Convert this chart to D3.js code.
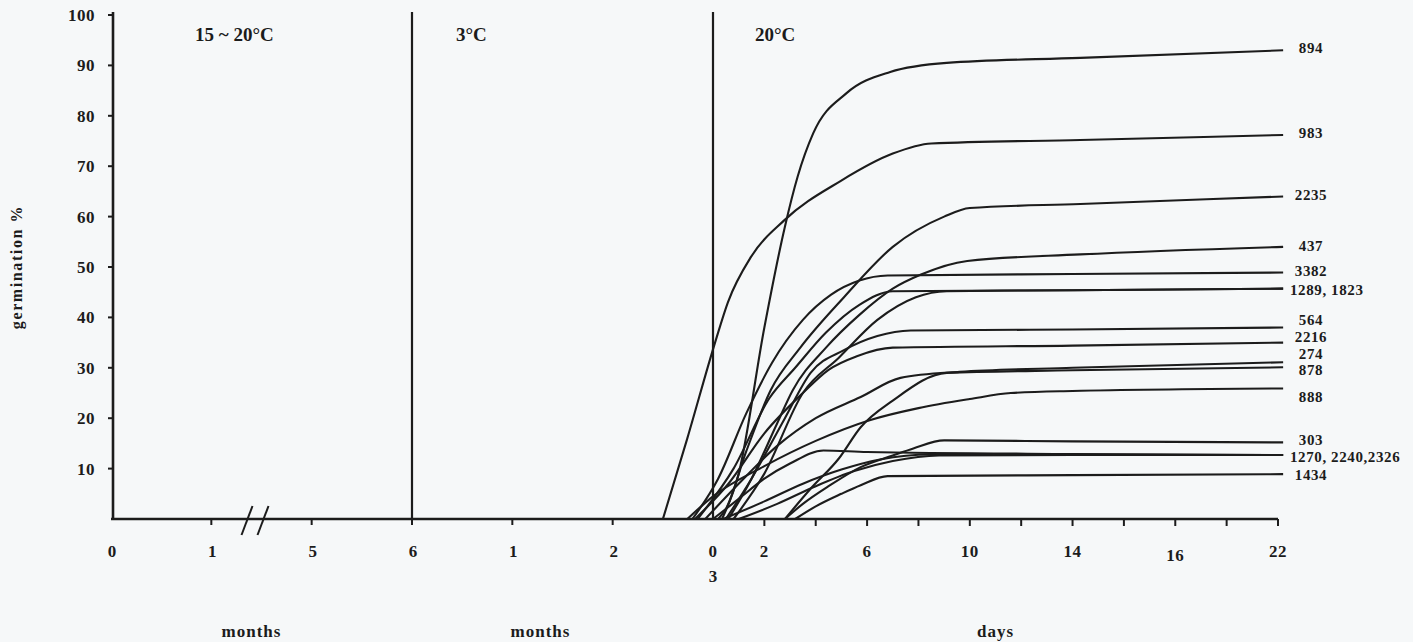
<!DOCTYPE html>
<html>
<head>
<meta charset="utf-8">
<script src="https://cdn.jsdelivr.net/npm/d3@7"></script>
<style>
  body { margin: 0; background: #f6f8f9; }
  text { font-family: "Liberation Serif", "DejaVu Serif", serif; font-weight: bold; fill: #1c1c1c; }
</style>
</head>
<body>
<svg id="chart" width="1413" height="642"></svg>
<script>
// germination curves: [day after transfer to 20°C, germination %]
const c894  = [[0.35,0],[1.0,9],[2.0,38],[2.8,58],[3.3,68],[3.9,76.5],[5.2,84.5],[6.9,88.7],[9.1,90.5],[14.3,91.5],[22.2,93]];
const c983  = [[-1.95,0],[-1.0,16],[0.08,35],[0.58,43],[1.48,52],[2.76,59.2],[4.98,67.1],[7.0,72.5],[8.5,74.5],[14.3,75.2],[22.2,76.2]];
const c2235 = [[0.2,0],[0.5,2],[1.3,13.5],[2.25,25.6],[3.4,34],[5.1,44],[7.0,54],[9.0,60],[10,61.7],[14.3,62.5],[22.2,64]];
const c437  = [[0.6,0],[1.5,8],[2.5,19],[3.1,25.5],[4.4,34],[5.7,40.5],[7.0,45.7],[8.1,48.5],[9.9,51.2],[14.3,52.5],[22.2,54]];
const c3382 = [[-0.8,0],[0.2,8],[1.3,21],[2.3,31],[3.5,39.5],[4.6,44.5],[5.7,47.3],[6.8,48.3],[14,48.6],[22.2,48.9]];
const c1289 = [[-0.6,0],[0.8,10],[2.2,24],[3.2,30],[4.4,37],[5.7,42.5],[7.0,45.2],[14,45.4],[22.2,45.7]];
const c1823 = [[0.8,0],[2.0,9],[3.5,25],[4.9,32],[6.4,39.5],[7.9,44],[9.1,45.2],[14,45.4],[22.2,45.7]];
const c564  = [[0.5,0],[1.5,8],[2.8,20],[3.8,29],[5.1,33.5],[6.4,36.3],[7.7,37.4],[14,37.6],[22.2,38]];
const c2216 = [[-0.7,0],[0.6,7],[2.0,17],[3.5,25],[4.5,29.6],[5.6,32.3],[7.0,34],[14,34.4],[22.2,35]];
const c274  = [[-0.3,0],[1.0,7],[2.5,14.5],[4.0,20],[5.75,24.2],[7.3,28],[9.6,29.2],[14,30],[22.2,31.1]];
const c878  = [[2.8,0],[3.8,6],[4.9,12],[5.75,18.2],[7.0,23.5],[9.1,29],[14,29.5],[22.2,30.1]];
const c888  = [[-1.0,0],[0,4.5],[2,10.5],[4,15.5],[6.1,19.6],[8,22],[10,23.8],[11.6,25],[14,25.4],[22.2,25.9]];
const c303  = [[2.8,0],[3.5,3],[4.5,6.5],[5.75,10.3],[7.0,12.6],[7.8,14],[9.0,15.6],[14,15.4],[22.2,15.2]];
const c1270 = [[0.0,0],[1.0,4],[2.0,8],[3.0,11],[4.3,13.6],[6,13.3],[14,12.9],[22.2,12.7]];
const c2240 = [[0.4,0],[2.0,3.5],[3.5,7],[5.0,9.8],[6.5,11.8],[8.5,12.8],[14,12.8],[22.2,12.7]];
const c2326 = [[1.0,0],[2.5,3],[4.0,6.5],[5.5,9.5],[7.0,11.5],[8.8,12.6],[14,12.7],[22.2,12.7]];
const c1434 = [[3.2,0],[4.0,2.5],[5.0,5],[5.75,6.7],[6.8,8.5],[14,8.7],[22.2,8.9]];
const allCurves = [c894, c983, c2235, c437, c3382, c1289, c1823, c564, c2216, c274, c878, c888, c303, c1270, c2240, c2326, c1434];

// end labels and the % level where each one sits
const endLabels = ["894","983","2235","437","3382","1289, 1823","564","2216","274","878","888","303","1270, 2240,2326","1434"];
const endLabelPct = [93.5, 76.6, 64.3, 54.2, 49.2, 45.4, 39.5, 36.1, 32.7, 29.6, 24.2, 15.7, 12.3, 8.7];

// axis ticks
const yTicks = [10,20,30,40,50,60,70,80,90,100];
const monthTicks = [0, 1, 5, 6, 7, 8];
const monthTickLabels = ["0","1","5","6","1","2"];
const dayTicks = [0,2,4,6,8,10,12,14,16,18,20,22];
const dayTickLabels = {0:"0", 2:"2", 6:"6", 10:"10", 14:"14", 18:"16", 22:"22"};
const phaseLabels = ["15 ~ 20°C", "3°C", "20°C"];
const phaseStart = [0, 6, 9];   // months

const svg = d3.select("#chart");
const left = 111, right = 1278, plotTop = 15, base = 519;
const dayStart = 713;
const slot = (dayStart - left) / 6;

// months: 0-1, (break) 1-5, 5-6 at 15~20°C, then 3 months at 3°C
const xm = d3.scaleLinear().domain([0,1,5,6,9]).range([0,1,2,3,6].map(s => left + s*slot));
const xd = d3.scaleLinear().domain([0,22]).range([dayStart, right]);
const y = d3.scaleLinear().domain([0,100]).range([base, plotTop]);

const ink = "#1c1c1c";

// y axis
svg.append("line").attr("x1", left + 2).attr("x2", left + 2).attr("y1", plotTop - 3).attr("y2", base)
  .attr("stroke", ink).attr("stroke-width", 2.6);
svg.append("g").selectAll("line").data(yTicks).enter().append("line")
  .attr("x1", left - 3).attr("x2", left + 2)
  .attr("y1", d => y(d)).attr("y2", d => y(d))
  .attr("stroke", ink).attr("stroke-width", 2);
svg.append("g").selectAll("text").data(yTicks).enter().append("text")
  .attr("x", 95).attr("y", d => y(d) + 6)
  .attr("text-anchor", "end").style("font-size", "17px").style("letter-spacing", "0.5px")
  .text(d => d);

svg.append("text")
  .attr("transform", `translate(22, ${y(50)}) rotate(-90)`)
  .attr("text-anchor", "middle").style("font-size", "16px").style("letter-spacing", "1.6px")
  .text("germination %");

// x baseline
svg.append("line").attr("x1", left).attr("x2", right).attr("y1", base).attr("y2", base)
  .attr("stroke", ink).attr("stroke-width", 2.6);

// month ticks
svg.append("g").selectAll("line").data(monthTicks.slice(1)).enter().append("line")
  .attr("x1", d => xm(d)).attr("x2", d => xm(d))
  .attr("y1", base).attr("y2", base + 6)
  .attr("stroke", ink).attr("stroke-width", 2);
svg.append("g").selectAll("text").data(monthTicks).enter().append("text")
  .attr("x", d => xm(d) + 1).attr("y", base + 38)
  .attr("text-anchor", "middle").style("font-size", "17px")
  .text((d, i) => monthTickLabels[i]);
svg.append("text").attr("x", xm(9)).attr("y", base + 63)
  .attr("text-anchor", "middle").style("font-size", "17px").text("3");

// day ticks
svg.append("g").selectAll("line").data(dayTicks.slice(1)).enter().append("line")
  .attr("x1", d => xd(d)).attr("x2", d => xd(d))
  .attr("y1", base).attr("y2", base + 7)
  .attr("stroke", ink).attr("stroke-width", 2);
svg.append("g").selectAll("text").data(dayTicks.filter(d => dayTickLabels[d] !== undefined)).enter().append("text")
  .attr("x", d => xd(d)).attr("y", d => base + (d === 18 ? 42 : 38))
  .attr("text-anchor", "middle").style("font-size", "17px").style("letter-spacing", "0.5px")
  .text(d => dayTickLabels[d]);

// axis break
const bx = (xm(1) + xm(5)) / 2 - 5;
[-8, 8].forEach(off => {
  svg.append("line")
    .attr("x1", bx + off - 7).attr("y1", base + 16)
    .attr("x2", bx + off + 4).attr("y2", base - 13)
    .attr("stroke", ink).attr("stroke-width", 2);
});

// phase boundaries
[6, 9].forEach(m => {
  svg.append("line").attr("x1", xm(m)).attr("x2", xm(m)).attr("y1", plotTop - 3).attr("y2", base)
    .attr("stroke", ink).attr("stroke-width", 2.2);
});
const phaseOffset = [84, 44, 42];
svg.append("g").selectAll("text").data(phaseLabels).enter().append("text")
  .attr("x", (d, i) => xm(phaseStart[i]) + phaseOffset[i])
  .attr("y", 41).style("font-size", "19px")
  .text(d => d);

// bottom captions
const caption = (x, t) => svg.append("text").attr("x", x).attr("y", 637)
  .attr("text-anchor", "middle").style("font-size", "17px").style("letter-spacing", "1px").text(t);
caption((xm(1) + xm(5)) / 2 - 10, "months");
caption((xm(7) + xm(8)) / 2 - 22, "months");
caption(xd(11), "days");

// curves
const line = d3.line()
  .x(d => xd(d[0]))
  .y(d => y(d[1]))
  .curve(d3.curveMonotoneX);

svg.append("g").selectAll("path").data(allCurves).enter().append("path")
  .attr("d", line)
  .attr("fill", "none")
  .attr("stroke", ink)
  .attr("stroke-width", 2.1);

// end labels
svg.append("g").selectAll("text").data(endLabels).enter().append("text")
  .attr("x", d => d.includes(",") ? right + 12 : right + 33)
  .attr("y", (d, i) => y(endLabelPct[i]) + 5)
  .attr("text-anchor", d => d.includes(",") ? "start" : "middle")
  .style("font-size", "15px").style("letter-spacing", "0.6px")
  .text(d => d);
</script>
</body>
</html>
